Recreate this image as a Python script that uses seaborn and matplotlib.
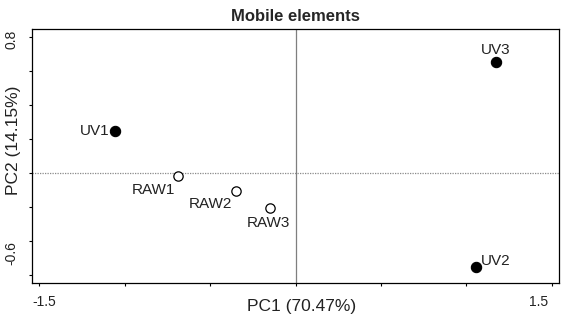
import numpy as np
import pandas as pd
import matplotlib
matplotlib.use("Agg")
import matplotlib.pyplot as plt
import matplotlib.transforms as mtransforms
import seaborn as sns

# PCA scores
samples = ["UV1", "UV2", "UV3", "RAW1", "RAW2", "RAW3"]
pc1 = [-1.053, 1.055, 1.172, -0.687, -0.349, -0.148]
pc2 = [0.246, -0.555, 0.652, -0.016, -0.104, -0.207]
group = ["UV", "UV", "UV", "RAW", "RAW", "RAW"]

x_ticks = [-1.5, -1.0, -0.5, 0.0, 0.5, 1.0, 1.5]
y_ticks = [0.8, 0.6, 0.4, 0.2, 0.0, -0.2, -0.4, -0.6]

df = pd.DataFrame({"sample": samples, "PC1": pc1, "PC2": pc2, "group": group})

sns.set_style("white")
plt.rcParams['font.family'] = ['Liberation Sans', 'DejaVu Sans']

fig = plt.figure(figsize=(5.63, 3.18), dpi=100)
ax = fig.add_axes([32 / 563, 1 - 283 / 318, (559 - 32) / 563, (283 - 29) / 318])

# reference lines through the origin
ax.axvline(0, color="#7f7f7f", lw=0.9, zorder=1)
ax.axhline(0, color="#8a8a8a", lw=0.9, ls=(0, (1, 1)), zorder=1)

sns.scatterplot(data=df[df.group == "UV"], x="PC1", y="PC2", ax=ax,
                color="black", s=55, edgecolor="black", linewidth=0.8,
                legend=False, zorder=3)
sns.scatterplot(data=df[df.group == "RAW"], x="PC1", y="PC2", ax=ax,
                facecolor="white", s=45, edgecolor="black", linewidth=0.9,
                legend=False, zorder=3)

# label offsets in points: (dx, dy, ha)
offsets = {
    "UV1": (-4.5, 0, "right"),
    "UV2": (3.5, 4.5, "left"),
    "UV3": (0, 8.5, "center"),
    "RAW1": (-2, -10, "right"),
    "RAW2": (-3, -9.5, "right"),
    "RAW3": (-1, -10.5, "center"),
}
for s, x, y in zip(samples, pc1, pc2):
    dx, dy, ha = offsets[s]
    ax.annotate(s, (x, y), xytext=(dx, dy), textcoords="offset points",
                ha=ha, va="center", fontsize=11, color="#222222")

ax.set_xlim(-1.541, 1.541)
ax.set_ylim(-0.647, 0.847)
ax.set_xticks(x_ticks)
ax.set_yticks(y_ticks)
ax.set_xticklabels(["-1.5", "", "", "", "", "", "1.5"])
ax.set_yticklabels(["0.8", "", "", "", "", "", "", "-0.6"], rotation=90, va="center")

for sp in ax.spines.values():
    sp.set_visible(True)
    sp.set_color("black")
    sp.set_linewidth(0.9)
ax.tick_params(axis="both", which="both", direction="out", length=2.5, width=0.8,
               colors="black", labelsize=10, labelcolor="#222222", pad=6,
               left=True, bottom=True)
ax.tick_params(axis="y", pad=7)

# nudge the end labels inward like in the reference
xl = ax.get_xticklabels()
xl[0].set_transform(xl[0].get_transform() + mtransforms.ScaledTranslation(4 / 72, 0, fig.dpi_scale_trans))
xl[-1].set_transform(xl[-1].get_transform() + mtransforms.ScaledTranslation(-10 / 72, 0, fig.dpi_scale_trans))
yl = ax.get_yticklabels()
yl[0].set_transform(yl[0].get_transform() + mtransforms.ScaledTranslation(0, -2 / 72, fig.dpi_scale_trans))
yl[-1].set_transform(yl[-1].get_transform() + mtransforms.ScaledTranslation(0, 16 / 72, fig.dpi_scale_trans))

ax.set_xlabel("PC1 (70.47%)", fontsize=12.5, color="#222222", va="center")
ax.set_ylabel("PC2 (14.15%)", fontsize=12.5, color="#222222", va="center")
ax.xaxis.set_label_coords(0.512, -0.094)
ax.yaxis.set_label_coords(-0.035, 0.563)
ax.set_title("Mobile elements", fontsize=12, fontweight="bold", pad=6)

fig.savefig("out.png", dpi=100)
